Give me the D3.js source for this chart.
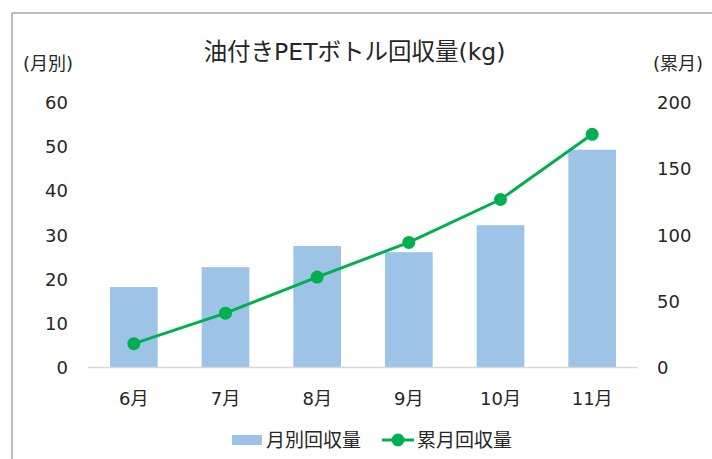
<!DOCTYPE html>
<html><head><meta charset="utf-8">
<script src="https://cdn.jsdelivr.net/npm/d3@7"></script>
<style>body{margin:0;background:#fff}svg{display:block}text{font-family:"DejaVu Sans","Noto Sans CJK JP",sans-serif;fill:#262626}</style>
</head><body>
<script>
const categories = ["6月","7月","8月","9月","10月","11月"];
const monthly = [18.1, 22.6, 27.4, 26, 32.1, 49.2];
const cumulative = [17.6, 40.6, 67.9, 94, 126.4, 175.6];
const leftTicks = [0,10,20,30,40,50,60];
const rightTicks = [0,50,100,150,200];
const title = "油付きPETボトル回収量(kg)";
const leftTitle = "(月別)";
const rightTitle = "(累月)";
const seriesNames = ["月別回収量","累月回収量"];

const FF = '"DejaVu Sans","Noto Sans CJK JP",sans-serif';
const W = 712, H = 459;
const svg = d3.select("body").append("svg").attr("width", W).attr("height", H);

svg.append("rect").attr("x",12).attr("y",13).attr("width",800).attr("height",600)
  .attr("fill","none").attr("stroke","#a6a6a6").attr("stroke-width",1.5);

const plot = {l:88, r:638, t:102, b:367};
const x = d3.scaleBand().domain(categories).range([plot.l, plot.r]).paddingInner(0.48).paddingOuter(0.24);
const yL = d3.scaleLinear().domain([0,60]).range([plot.b, plot.t]);
const yR = d3.scaleLinear().domain([0,200]).range([plot.b, plot.t]);

svg.append("text").attr("x",354.5).attr("y",52).attr("text-anchor","middle")
  .attr("dominant-baseline","central").attr("font-size",23.5).text(title);
svg.append("text").attr("x",23).attr("y",63).attr("dominant-baseline","central").attr("font-size",18).text(leftTitle);
svg.append("text").attr("x",653).attr("y",63).attr("dominant-baseline","central").attr("font-size",18).text(rightTitle);

// bars
svg.selectAll("rect.bar").data(monthly).join("rect").attr("class","bar")
  .attr("x",(d,i)=>x(categories[i])).attr("width",x.bandwidth())
  .attr("y",d=>yL(d)).attr("height",d=>yL(0)-yL(d)).attr("fill","#9dc3e6");

// baseline
svg.append("line").attr("x1",plot.l).attr("x2",plot.r).attr("y1",plot.b+0.5).attr("y2",plot.b+0.5)
  .attr("stroke","#d9d9d9").attr("stroke-width",1.5);

// axes
const axL = d3.axisLeft(yL).tickValues(leftTicks).tickSize(0).tickPadding(0);
const gL = svg.append("g").attr("transform","translate(68,0)").call(axL);
const axR = d3.axisRight(yR).tickValues(rightTicks).tickSize(0).tickPadding(0);
const gR = svg.append("g").attr("transform","translate(657,0)").call(axR);
const axB = d3.axisBottom(x).tickSize(0).tickPadding(0);
const gB = svg.append("g").attr("transform","translate(0,398)").call(axB);
[gL,gR,gB].forEach(g=>{
  g.select(".domain").remove();
  g.selectAll("text").attr("font-size",18).attr("fill","#262626")
   .attr("font-family",FF).attr("dy",null).attr("dominant-baseline","central");
});

// line
const cx = (i)=>x(categories[i])+x.bandwidth()/2;
svg.append("path").datum(cumulative)
  .attr("d", d3.line().x((d,i)=>cx(i)).y(d=>yR(d)))
  .attr("fill","none").attr("stroke","#00b050").attr("stroke-width",3);
svg.selectAll("circle.pt").data(cumulative).join("circle").attr("class","pt")
  .attr("cx",(d,i)=>cx(i)).attr("cy",d=>yR(d)).attr("r",6.5).attr("fill","#00b050");

// legend
const ly = 440;
svg.append("rect").attr("x",232).attr("y",ly-5).attr("width",30).attr("height",10).attr("fill","#9dc3e6");
svg.append("text").attr("x",266).attr("y",ly).attr("dominant-baseline","central").attr("font-size",19).text(seriesNames[0]);
svg.append("line").attr("x1",382).attr("x2",414).attr("y1",ly).attr("y2",ly).attr("stroke","#00b050").attr("stroke-width",3);
svg.append("circle").attr("cx",398).attr("cy",ly).attr("r",6.5).attr("fill","#00b050");
svg.append("text").attr("x",417).attr("y",ly).attr("dominant-baseline","central").attr("font-size",19).text(seriesNames[1]);
</script>
</body></html>
